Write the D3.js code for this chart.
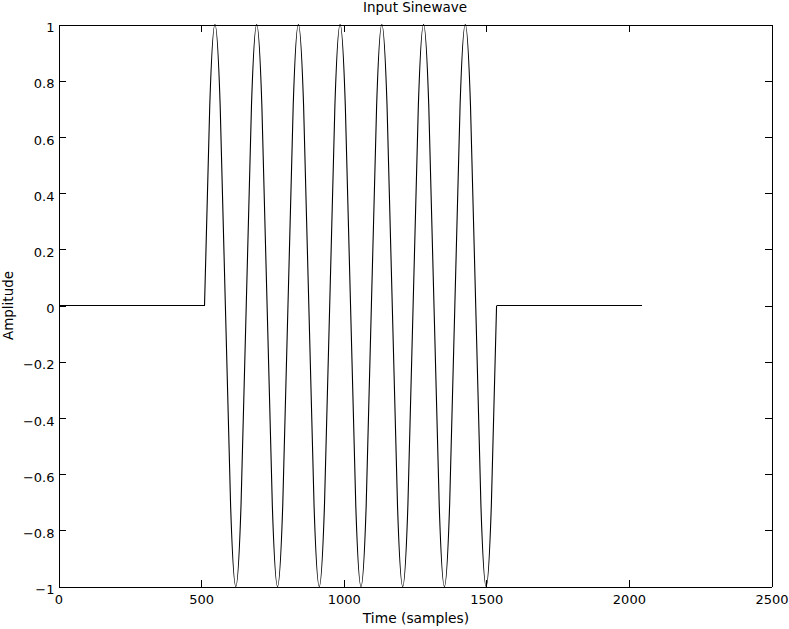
<!DOCTYPE html>
<html>
<head>
<meta charset="utf-8">
<script src="https://cdn.jsdelivr.net/npm/d3@7"></script>
<style>
  html, body { margin: 0; padding: 0; background: #fff; }
  svg text { font-family: "DejaVu Sans", sans-serif; font-size: 13px; fill: #000; }
</style>
</head>
<body>
<div id="vis"></div>
<script>
// Input sinewave: silence, a 7-cycle burst from sample 512 to 1536, silence to 2048.

const X_TICKS = [0, 500, 1000, 1500, 2000, 2500];
const Y_TICKS = [-1, -0.8, -0.6, -0.4, -0.2, 0, 0.2, 0.4, 0.6, 0.8, 1];

// flat parts before and after the burst
const LEAD_IN = [[0, 0], [512, 0]];
const TAIL    = [[1536, 0], [2047, 0]];

// burst, read at eighth-cycle points (period ~146.3 samples)
const BURST_X = [
  512, 530.3, 548.6, 566.9, 585.1, 603.4, 621.7, 640,
  658.3, 676.6, 694.9, 713.1, 731.4, 749.7, 768, 786.3,
  804.6, 822.9, 841.1, 859.4, 877.7, 896, 914.3, 932.6,
  950.9, 969.1, 987.4, 1005.7, 1024, 1042.3, 1060.6, 1078.9,
  1097.1, 1115.4, 1133.7, 1152, 1170.3, 1188.6, 1206.9, 1225.1,
  1243.4, 1261.7, 1280, 1298.3, 1316.6, 1334.9, 1353.1, 1371.4,
  1389.7, 1408, 1426.3, 1444.6, 1462.9, 1481.1, 1499.4, 1517.7,
  1536
];
const BURST_Y = [
  0, 0.71, 1, 0.71, 0, -0.71, -1, -0.71,
  0, 0.71, 1, 0.71, 0, -0.71, -1, -0.71,
  0, 0.71, 1, 0.71, 0, -0.71, -1, -0.71,
  0, 0.71, 1, 0.71, 0, -0.71, -1, -0.71,
  0, 0.71, 1, 0.71, 0, -0.71, -1, -0.71,
  0, 0.71, 1, 0.71, 0, -0.71, -1, -0.71,
  0, 0.71, 1, 0.71, 0, -0.71, -1, -0.71,
  0
];

const W = 789, H = 629;
const margin = { top: 24.5, right: 17.5, bottom: 42.5, left: 58.5 };
const innerW = W - margin.left - margin.right;
const innerH = H - margin.top - margin.bottom;

const x = d3.scaleLinear().domain([0, 2500]).range([0, innerW]);
const y = d3.scaleLinear().domain([-1, 1]).range([innerH, 0]);

const svg = d3.select("#vis").append("svg").attr("width", W).attr("height", H);
const g = svg.append("g").attr("transform", `translate(${margin.left},${margin.top})`);

const fmt = d3.format("~g");
const TICK = 7;

// axes with inward ticks, mirrored on top and right
g.append("g").attr("transform", `translate(0,${innerH})`)
  .call(d3.axisBottom(x).tickValues(X_TICKS).tickSizeInner(-TICK).tickSizeOuter(0).tickPadding(8).tickFormat(fmt))
  .call(ax => ax.selectAll("text").attr("dy", "0.71em"));
g.append("g")
  .call(d3.axisTop(x).tickValues(X_TICKS).tickSizeInner(-TICK).tickSizeOuter(0).tickFormat(""));
g.append("g")
  .call(d3.axisLeft(y).tickValues(Y_TICKS).tickSizeInner(-TICK).tickSizeOuter(0).tickPadding(4).tickFormat(fmt))
  .call(ax => ax.selectAll("text").attr("dy", "0.55em"));
g.append("g").attr("transform", `translate(${innerW},0)`)
  .call(d3.axisRight(y).tickValues(Y_TICKS).tickSizeInner(-TICK).tickSizeOuter(0).tickFormat(""));

g.selectAll(".domain, .tick line").attr("stroke", "#000").attr("shape-rendering", "crispEdges");
g.selectAll(".tick text").style("font-family", "'DejaVu Sans', sans-serif").style("font-size", "13px").attr("fill", "#000");

// signal
const flat = d3.line().x(d => x(d[0])).y(d => y(d[1]));
const wave = d3.line().x(d => x(d[0])).y(d => y(d[1])).curve(d3.curveNatural);
const burst = BURST_X.map((v, i) => [v, BURST_Y[i]]);

[LEAD_IN, TAIL].forEach(seg => {
  g.append("path").attr("d", flat(seg))
    .attr("fill", "none").attr("stroke", "#000").attr("stroke-width", 1)
    .attr("shape-rendering", "crispEdges");
});
g.append("path").attr("d", wave(burst))
  .attr("fill", "none").attr("stroke", "#000").attr("stroke-width", 1.1);

// labels
svg.append("text").attr("x", margin.left + innerW / 2).attr("y", 12)
  .attr("text-anchor", "middle").style("font-size", "13.5px").text("Input Sinewave");
svg.append("text").attr("x", margin.left + innerW / 2 + 1).attr("y", 623)
  .attr("text-anchor", "middle").style("font-size", "13.8px").text("Time (samples)");
svg.append("text").attr("transform", `translate(13,${margin.top + innerH / 2}) rotate(-90)`)
  .attr("text-anchor", "middle").style("font-size", "13.5px").text("Amplitude");
</script>
</body>
</html>
